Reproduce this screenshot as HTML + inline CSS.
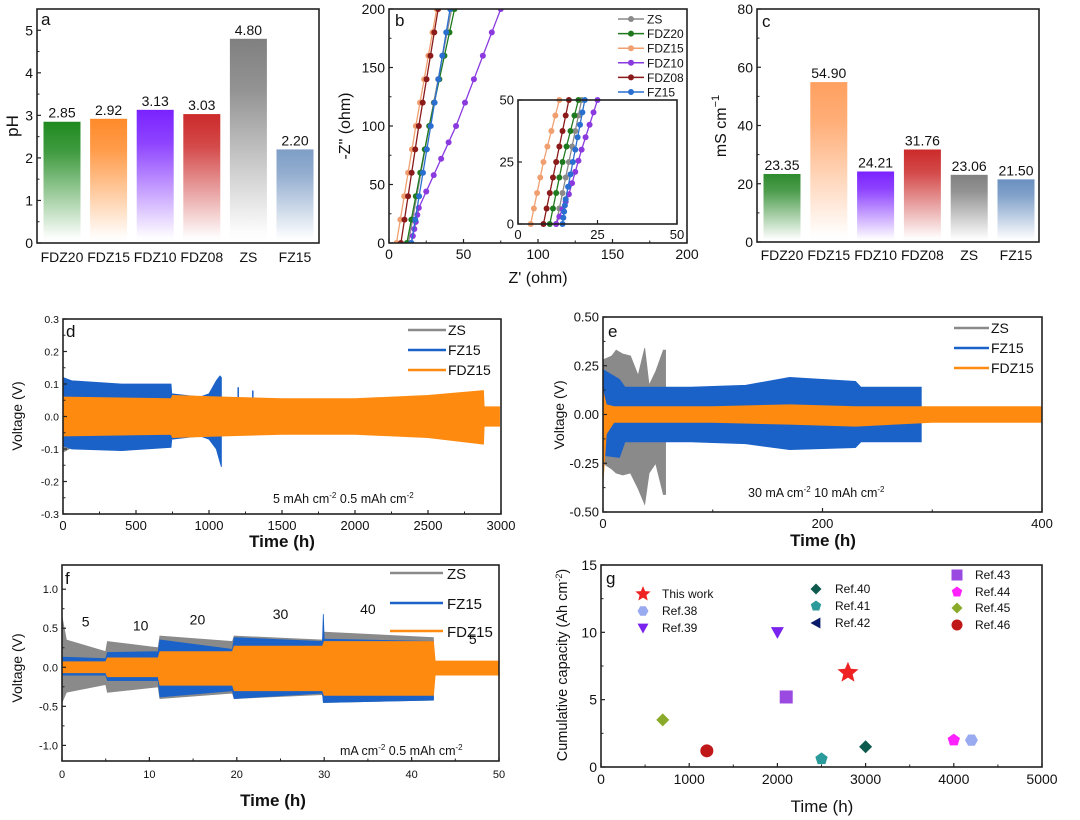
<!DOCTYPE html>
<html><head><meta charset="utf-8"><style>
body{margin:0;background:#fff}
svg{display:block;font-family:"Liberation Sans",Arial,sans-serif}
</style></head><body>
<svg id="s" width="1080" height="820" viewBox="0 0 1080 820">
<defs id="defs"></defs>
</svg>
<script>
// ---------- data ----------
const barCats=["FDZ20","FDZ15","FDZ10","FDZ08","ZS","FZ15"];
const phVals=[2.85,2.92,3.13,3.03,4.80,2.20];
const condVals=[23.35,54.90,24.21,31.76,23.06,21.50];
const barColorsA=["#1f8a1f","#ff8a2a","#7a22ff","#cc2a2a","#808080","#7e9ec6"];
const barColorsC=["#2e8b2e","#ffa060","#7a22ff","#cc2a2a","#808080","#6a90c0"];
const phTicks=[0,1,2,3,4,5];
const condTicks=[0,20,40,60,80];
// panel b nyquist
const eisNames=["ZS","FDZ20","FDZ15","FDZ10","FDZ08","FZ15"];
const eisColors=["#8a8a8a","#1f7a1f","#f0a070","#8a3adf","#8b1a1a","#2a6fd0"];
const eisX=[[13,27,42],[12,27,44],[5,18,32],[15,20,45,75],[8,20,33],[15,28,41]];
const eisY=[[0,100,200],[0,100,200],[0,100,200],[0,30,100,200],[0,100,200],[0,100,200]];
const insX=[[12,16,20],[10,14,19],[4,8,13],[12,16,20,25],[8,12,16],[14,15,18,21]];
const insY=[[0,25,50],[0,25,50],[0,25,50],[0,12,30,50],[0,25,50],[0,10,30,50]];
const bTicks=[0,50,100,150,200];
// panel d
const dZS_t=[0,40,80];const dZS_u=[0.12,0.1,0.09];const dZS_l=[-0.11,-0.1,-0.09];
const dFZ_t=[0,60,400,740,745,940,1000,1050,1075,1085];
const dFZ_u=[0.12,0.11,0.1,0.1,0.07,0.06,0.07,0.11,0.125,0.12];
const dFZ_l=[-0.09,-0.1,-0.105,-0.095,-0.07,-0.06,-0.07,-0.1,-0.14,-0.155];
const dFD_t=[0,740,750,1100,1500,2000,2500,2880,2885,2990];
const dFD_u=[0.06,0.055,0.065,0.06,0.055,0.055,0.065,0.08,0.03,0.03];
const dFD_l=[-0.06,-0.055,-0.065,-0.06,-0.055,-0.055,-0.065,-0.085,-0.03,-0.03];
// panel e
const eZS_t=[0,8,12,18,25,32,38,42,48,55,57];
const eZS_u=[0.28,0.3,0.33,0.31,0.3,0.2,0.34,0.15,0.22,0.33,0.33];
const eZS_l=[-0.25,-0.28,-0.3,-0.31,-0.3,-0.38,-0.46,-0.3,-0.25,-0.41,-0.41];
const eFZ_t=[0,15,20,80,130,170,230,235,290];
const eFZ_u=[0.23,0.18,0.14,0.14,0.15,0.19,0.17,0.14,0.14];
const eFZ_l=[-0.21,-0.22,-0.14,-0.14,-0.15,-0.18,-0.17,-0.14,-0.14];
const eFD_t=[0,3,10,100,170,230,300,400];
const eFD_u=[0.12,0.05,0.04,0.04,0.05,0.04,0.04,0.04];
const eFD_l=[-0.35,-0.1,-0.04,-0.04,-0.05,-0.06,-0.04,-0.04];
// panel f
const fZS_t=[0,0.5,5,5.2,11,11.2,19.5,19.7,29.8,30,42.5];
const fZS_u=[0.65,0.35,0.2,0.33,0.25,0.4,0.33,0.4,0.35,0.45,0.38];
const fZS_l=[-0.45,-0.32,-0.22,-0.32,-0.25,-0.4,-0.33,-0.4,-0.35,-0.45,-0.42];
const fFZ_t=[0,5,5.2,11,11.2,19.5,19.7,29.8,29.9,30,42.5];
const fFZ_u=[0.13,0.11,0.19,0.2,0.35,0.23,0.38,0.33,0.68,0.36,0.33];
const fFZ_l=[-0.1,-0.1,-0.17,-0.17,-0.38,-0.3,-0.4,-0.33,-0.45,-0.45,-0.42];
const fFD_t=[0,5,5.2,11,11.2,19.5,19.7,29.8,30,42.5,42.7,50];
const fFD_u=[0.07,0.07,0.12,0.12,0.2,0.2,0.27,0.27,0.33,0.33,0.08,0.08];
const fFD_l=[-0.07,-0.07,-0.12,-0.12,-0.23,-0.23,-0.3,-0.3,-0.36,-0.36,-0.1,-0.1];
const fRates=["5","10","20","30","40","5"];
const fRateX=[2.7,9,15.5,25,35,47];
const fRateY=[0.52,0.47,0.55,0.62,0.68,0.3];
// panel g
const gNames=["This work","Ref.38","Ref.39","Ref.40","Ref.41","Ref.42","Ref.43","Ref.44","Ref.45","Ref.46"];
const gTime=[2800,4200,2000,3000,2500,null,2100,4000,700,1200];
const gCap=[7,2,10,1.5,0.6,null,5.2,2,3.5,1.2];
const gShape=["star","hex","tdown","diamond","pent","tleft","square","pent","diamond","circle"];
const gColor=["#ee2222","#9aaaf0","#7a22ee","#0e5a4e","#2a9a9a","#0a1a6a","#9a4ae0","#ff22ff","#8aaa2a","#c01818"];

// ---------- helpers ----------
const S=document.getElementById('s'),D=document.getElementById('defs');
const NS="http://www.w3.org/2000/svg";
function mk(tag,at,parent){const e=document.createElementNS(NS,tag);for(const k in at)e.setAttribute(k,at[k]);(parent||S).appendChild(e);return e;}
function txt(x,y,s,size,anchor,parent,extra){const e=mk('text',Object.assign({x:x,y:y,'font-size':size,'text-anchor':anchor||'middle',fill:'#111'},extra||{}),parent);e.textContent=s;return e;}
function lin(d0,d1,r0,r1){return v=>r0+(v-d0)*(r1-r0)/(d1-d0);}
function grad(id,c){const g=mk('linearGradient',{id:id,x1:0,y1:0,x2:0,y2:1},D);mk('stop',{offset:0,'stop-color':c},g);mk('stop',{offset:0.25,'stop-color':c,'stop-opacity':0.85},g);mk('stop',{offset:0.95,'stop-color':c,'stop-opacity':0.02},g);mk('stop',{offset:1,'stop-color':c,'stop-opacity':0},g);}
function frame(x0,y0,x1,y1,name){const r=mk('rect',{x:x0,y:y0,width:x1-x0,height:y1-y0,fill:'none',stroke:'#222','stroke-width':1.6});}
function yticks(ys,vals,x,labels,size,name,minor){const g=mk('g',{});
 vals.forEach((v,i)=>{mk('line',{x1:x,x2:x+4,y1:ys(v),y2:ys(v),stroke:'#222','stroke-width':1.2},g);txt(x-4,ys(v)+size*0.36,labels[i],size,'end',g);});
 if(minor)minor.forEach(v=>mk('line',{x1:x,x2:x+2.5,y1:ys(v),y2:ys(v),stroke:'#222'},g));}
function xticks(xs,vals,y,labels,size,name,minor,dy){const g=mk('g',{});
 vals.forEach((v,i)=>{mk('line',{x1:xs(v),x2:xs(v),y1:y,y2:y-4,stroke:'#222','stroke-width':1.2},g);txt(xs(v),y+(dy||size+2),labels[i],size,'middle',g);});
 if(minor)minor.forEach(v=>mk('line',{x1:xs(v),x2:xs(v),y1:y,y2:y-2.5,stroke:'#222'},g));}
function vlabel(x,y,s,size,name){const t=txt(x,y,s,size,'middle',null,{transform:`rotate(-90 ${x} ${y})`});return t;}
function envelope(xs,ys,t,u,l,color,name){let p=t.map((v,i)=>xs(v)+','+ys(u[i]));for(let i=t.length-1;i>=0;i--)p.push(xs(t[i])+','+ys(l[i]));
 const e=mk('polygon',{points:p.join(' '),fill:color,stroke:color,'stroke-width':0.8});}
function panelLetter(x,y,s){const t=txt(x,y,s,17,'start');}

// ---------- panel a ----------
(function(){const x0=37,x1=319,y0=9,y1=243;const ys=lin(0,5.5,y1,y0);
 const xs=i=>62+i*46.6;
 barCats.forEach((c,i)=>{grad('ga'+i,barColorsA[i]);const b=mk('rect',{x:xs(i)-18.5,y:ys(phVals[i]),width:37,height:y1-ys(phVals[i]),fill:`url(#ga${i})`});
  
  const t=txt(xs(i),ys(phVals[i])-4,phVals[i].toFixed(2),14);
  txt(xs(i),262,c,14);});
 frame(x0,y0,x1,y1,'panel-a-frame');
 yticks(ys,phTicks,x0,phTicks.map(String),14,'ph-y-ticks',[0.5,1.5,2.5,3.5,4.5]);
 vlabel(18,126,'pH',17,'ph-y-title');panelLetter(41,25,'a');})();

// ---------- panel b ----------
(function(){const x0=389,x1=687,y0=9,y1=243;const xs=lin(0,200,x0,x1),ys=lin(0,200,y1,y0);
 const g=mk('g',{});
 const cp=mk('clipPath',{id:'cb'},D);mk('rect',{x:x0,y:y0,width:x1-x0,height:y1-y0},cp);
 g.setAttribute('clip-path','url(#cb)');
 function series(X,Y,xs,ys,col,gp,n,step){const pts=[];for(let k=0;k<X.length-1;k++){for(let j=0;j<step;j++){const f=j/step;pts.push([X[k]+(X[k+1]-X[k])*f,Y[k]+(Y[k+1]-Y[k])*f]);}}pts.push([X[X.length-1],Y[Y.length-1]]);
  mk('polyline',{points:pts.map(p=>xs(p[0])+','+ys(p[1])).join(' '),fill:'none',stroke:col,'stroke-width':1.3},gp);
  pts.forEach((p,i)=>{if(i%2==0){const c=mk('circle',{cx:xs(p[0]),cy:ys(p[1]),r:3,fill:col},gp);}});}
 eisNames.forEach((n,i)=>series(eisX[i],eisY[i],xs,ys,eisColors[i],g,n,10));
 frame(x0,y0,x1,y1,'panel-b-frame');
 yticks(ys,bTicks,x0,bTicks.map(String),14,'nyquist-y-ticks',[25,75,125,175]);
 xticks(xs,bTicks,y1,bTicks.map(String),14,'nyquist-x-ticks',[25,75,125,175]);
 vlabel(350,126,'-Z" (ohm)',16,'nyquist-y-title');
 const xt=txt(538,283,"Z' (ohm)",16);
 panelLetter(395,26,'b');
 const ix0=518,ix1=677,iy0=100,iy1=224;const ixs=lin(0,50,ix0,ix1),iys=lin(0,50,iy1,iy0);
 mk('rect',{x:ix0,y:iy0,width:ix1-ix0,height:iy1-iy0,fill:'#fff'});
 const gi=mk('g',{});
 eisNames.forEach((n,i)=>series(insX[i],insY[i],ixs,iys,eisColors[i],gi,n+'-inset',8));
 frame(ix0,iy0,ix1,iy1,'inset-frame');
 yticks(iys,[0,25,50],ix0,['0','25','50'],13,'inset-y-ticks');
 xticks(ixs,[0,25,50],iy1,['0','25','50'],13,'inset-x-ticks');
 const lg=mk('g',{});
 eisNames.forEach((n,i)=>{const y=19+i*14.6;mk('line',{x1:618,x2:644,y1:y,y2:y,stroke:eisColors[i],'stroke-width':1.5},lg);mk('circle',{cx:631,cy:y,r:3,fill:eisColors[i]},lg);txt(647,y+4.5,n,12,'start',lg);});})();

// ---------- panel c ----------
(function(){const x0=757,x1=1039,y0=9,y1=242;const ys=lin(0,80,y1,y0);const xs=i=>782+i*46.8;
 barCats.forEach((c,i)=>{grad('gc'+i,barColorsC[i]);const b=mk('rect',{x:xs(i)-18.5,y:ys(condVals[i]),width:37,height:y1-ys(condVals[i]),fill:`url(#gc${i})`});
  
  const t=txt(xs(i),ys(condVals[i])-4,condVals[i].toFixed(2),14);
  txt(xs(i),260,c,14);});
 frame(x0,y0,x1,y1,'panel-c-frame');
 yticks(ys,condTicks,x0,condTicks.map(String),14,'cond-y-ticks',[10,30,50,70]);
 const t=vlabel(726,126,'mS cm',16,'cond-y-title');const sp=document.createElementNS(NS,'tspan');sp.setAttribute('dy',-7);sp.setAttribute('font-size',11);sp.textContent='−1';t.appendChild(sp);
 panelLetter(762,27,'c');})();

function note(x,y,parts,name){const a=txt(x,y,parts[0],12.5,'start');
 for(let i=1;i<parts.length;i++){const s=document.createElementNS(NS,'tspan');if(i%2==1){s.setAttribute('dy',-5);s.setAttribute('font-size',8);}else{s.setAttribute('dy',5);}s.textContent=parts[i];a.appendChild(s);}
 }

// ---------- panel d ----------
(function(){const x0=63,x1=501,y0=319,y1=514;const xs=lin(0,3000,x0,x1),ys=lin(-0.3,0.3,y1,y0);
 envelope(xs,ys,dZS_t,dZS_u,dZS_l,'#8a8a8a','d-zs-trace');
 envelope(xs,ys,dFZ_t,dFZ_u,dFZ_l,'#1a62c8','d-fz15-trace');
 mk('line',{x1:xs(1200),x2:xs(1200),y1:ys(0.09),y2:ys(0),stroke:'#1a62c8','stroke-width':1.5});
 mk('line',{x1:xs(1300),x2:xs(1300),y1:ys(0.08),y2:ys(0),stroke:'#1a62c8','stroke-width':1.5});
 envelope(xs,ys,dFD_t,dFD_u,dFD_l,'#ff8a10','d-fdz15-trace');
 frame(x0,y0,x1,y1,'panel-d-frame');
 const tk=[-0.3,-0.2,-0.1,0,0.1,0.2,0.3];yticks(ys,tk,x0,tk.map(v=>v.toFixed(1)),10.5,'d-y-ticks',[-0.25,-0.15,-0.05,0.05,0.15,0.25]);
 const xt=[0,500,1000,1500,2000,2500,3000];xticks(xs,xt,y1,xt.map(String),13,'d-x-ticks',[250,750,1250,1750,2250,2750],16);
 vlabel(22,416,'Voltage (V)',14,'d-y-title');
 const t=txt(282,547,'Time (h)',17,'middle',null,{'font-weight':'bold'});
 panelLetter(66,337,'d');
 note(273,503,['5 mAh cm','-2',' 0.5 mAh cm','-2'],'d-condition-note');
 const lg=mk('g',{});
 [['ZS','#8a8a8a'],['FZ15','#1a62c8'],['FDZ15','#ff8a10']].forEach((p,i)=>{const y=330+i*20;mk('line',{x1:408,x2:446,y1:y,y2:y,stroke:p[1],'stroke-width':2.5},lg);txt(448,y+5,p[0],14,'start',lg);});})();

// ---------- panel e ----------
(function(){const x0=603,x1=1042,y0=317,y1=512;const xs=lin(0,400,x0,x1),ys=lin(-0.5,0.5,y1,y0);
 envelope(xs,ys,eZS_t,eZS_u,eZS_l,'#8a8a8a','e-zs-trace');
 envelope(xs,ys,eFZ_t,eFZ_u,eFZ_l,'#1a62c8','e-fz15-trace');
 envelope(xs,ys,eFD_t,eFD_u,eFD_l,'#ff8a10','e-fdz15-trace');
 frame(x0,y0,x1,y1,'panel-e-frame');
 const tk=[-0.5,-0.25,0,0.25,0.5];yticks(ys,tk,x0,tk.map(v=>v.toFixed(2)),13,'e-y-ticks',[-0.375,-0.125,0.125,0.375]);
 xticks(xs,[0,200,400],y1,['0','200','400'],13,'e-x-ticks',[100,300],16);
 vlabel(564,415,'Voltage (V)',14,'e-y-title');
 const t=txt(823,546,'Time (h)',17,'middle',null,{'font-weight':'bold'});
 panelLetter(608,337,'e');
 note(748,497,['30 mA cm','-2',' 10 mAh cm','-2'],'e-condition-note');
 const lg=mk('g',{});
 [['ZS','#8a8a8a'],['FZ15','#1a62c8'],['FDZ15','#ff8a10']].forEach((p,i)=>{const y=328+i*20;mk('line',{x1:954,x2:989,y1:y,y2:y,stroke:p[1],'stroke-width':2.5},lg);txt(991,y+5,p[0],14,'start',lg);});})();

// ---------- panel f ----------
(function(){const x0=62,x1=499,y0=565,y1=761;const xs=lin(0,50,x0,x1),ys=lin(-1.2,1.31,y1,y0);
 envelope(xs,ys,fZS_t,fZS_u,fZS_l,'#8a8a8a','f-zs-trace');
 envelope(xs,ys,fFZ_t,fFZ_u,fFZ_l,'#1a62c8','f-fz15-trace');
 envelope(xs,ys,fFD_t,fFD_u,fFD_l,'#ff8a10','f-fdz15-trace');
 frame(x0,y0,x1,y1,'panel-f-frame');
 const tk=[-1,-0.5,0,0.5,1];yticks(ys,tk,x0,tk.map(v=>v.toFixed(1)),11,'f-y-ticks',[-0.75,-0.25,0.25,0.75]);
 const xt=[0,10,20,30,40,50];xticks(xs,xt,y1,xt.map(String),11,'f-x-ticks',[5,15,25,35,45],17);
 fRates.forEach((r,i)=>{const t=txt(xs(fRateX[i]),ys(fRateY[i]),r,14);});
 vlabel(22,668,'Voltage (V)',14,'f-y-title');
 const t=txt(273,806,'Time (h)',17,'middle',null,{'font-weight':'bold'});
 panelLetter(65,584,'f');
 note(340,755,['mA cm','-2',' 0.5 mAh cm','-2'],'f-condition-note');
 const lg=mk('g',{});
 [['ZS','#8a8a8a',573],['FZ15','#1a62c8',603],['FDZ15','#ff8a10',631]].forEach((p,i)=>{const y=p[2];mk('line',{x1:390,x2:443,y1:y,y2:y,stroke:p[1],'stroke-width':2.5},lg);txt(447,y+6,p[0],15,'start',lg);});})();

// ---------- panel g ----------
function marker(shape,x,y,r,c,parent){let e;
 if(shape=='circle')e=mk('circle',{cx:x,cy:y,r:r,fill:c},parent);
 else if(shape=='square')e=mk('rect',{x:x-r,y:y-r,width:2*r,height:2*r,fill:c},parent);
 else{let pts=[];
  if(shape=='star'){for(let i=0;i<10;i++){const a=-Math.PI/2+i*Math.PI/5,rr=i%2?r*0.45:r;pts.push([x+rr*Math.cos(a),y+rr*Math.sin(a)]);}}
  else if(shape=='hex'){for(let i=0;i<6;i++){const a=i*Math.PI/3;pts.push([x+r*Math.cos(a),y+r*Math.sin(a)]);}}
  else if(shape=='pent'){for(let i=0;i<5;i++){const a=-Math.PI/2+i*2*Math.PI/5;pts.push([x+r*Math.cos(a),y+r*Math.sin(a)]);}}
  else if(shape=='tdown')pts=[[x-r,y-r*0.8],[x+r,y-r*0.8],[x,y+r]];
  else if(shape=='tleft')pts=[[x+r*0.8,y-r],[x+r*0.8,y+r],[x-r,y]];
  else if(shape=='diamond')pts=[[x,y-r],[x+r,y],[x,y+r],[x-r,y]];
  e=mk('polygon',{points:pts.map(p=>p.join(',')).join(' '),fill:c},parent);}
 return e;}
(function(){const x0=601,x1=1042,y0=565,y1=767;const xs=lin(0,5000,x0,x1),ys=lin(0,15,y1,y0);
 frame(x0,y0,x1,y1,'panel-g-frame');
 const tk=[0,5,10,15];yticks(ys,tk,x0,tk.map(String),14,'g-y-ticks',[2.5,7.5,12.5]);
 const xt=[0,1000,2000,3000,4000,5000];xticks(xs,xt,y1,xt.map(String),14,'g-x-ticks',[500,1500,2500,3500,4500],17);
 gNames.forEach((n,i)=>{if(gTime[i]===null)return;const r=gShape[i]=='star'?11:6.5;const m=marker(gShape[i],xs(gTime[i]),ys(gCap[i]),r,gColor[i]);
  });
 const lx=[643,643,643,816,816,816,957,957,957,957],tx=[662,662,662,835,835,835,975,975,975,975],ly=[594,611,628,589,606,623,575,592,608,625];
 const lg=mk('g',{});
 gNames.forEach((n,i)=>{marker(gShape[i],lx[i],ly[i],gShape[i]=='star'?8:5.5,gColor[i],lg);txt(tx[i],ly[i]+4,n,12,'start',lg);});
 const t=vlabel(567,665,'Cumulative capacity (Ah cm',14.5,'g-y-title');const sp=document.createElementNS(NS,'tspan');sp.setAttribute('dy',-5);sp.setAttribute('font-size',9);sp.textContent='-2';t.appendChild(sp);
 const sp2=document.createElementNS(NS,'tspan');sp2.setAttribute('dy',5);sp2.textContent=')';t.appendChild(sp2);
 const xl=txt(822,812,'Time (h)',17);
 panelLetter(606,584,'g');})();
</script>
</body></html>
